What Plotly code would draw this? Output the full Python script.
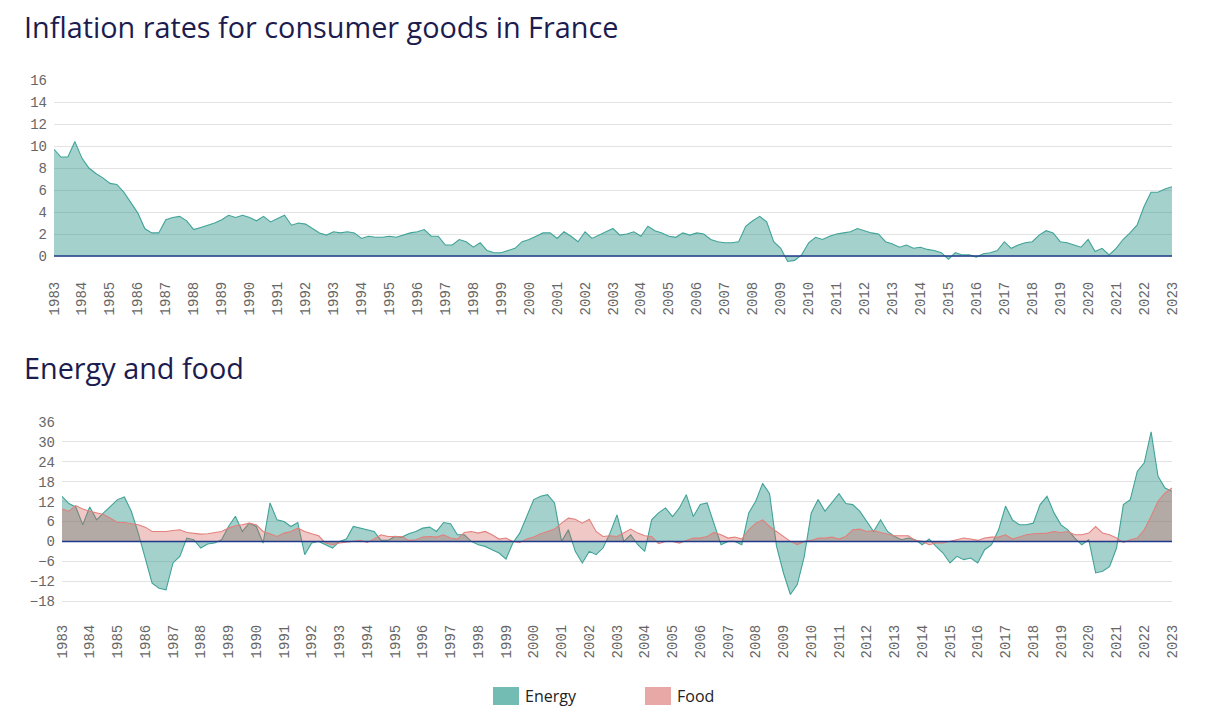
import pandas as pd
import plotly.graph_objects as go

# Quarterly dates Jan 1983 .. Jan 2023
dates = pd.date_range("1983-01-01", "2023-01-01", freq="QS")

overall = [
    9.7, 9.0, 9.0, 10.4,
    8.9, 8.0, 7.5, 7.1,
    6.6, 6.5, 5.8, 4.8,
    3.9, 2.5, 2.1, 2.1,
    3.3, 3.5, 3.6, 3.2,
    2.4, 2.6, 2.8, 3.0,
    3.3, 3.7, 3.5, 3.7,
    3.5, 3.2, 3.6, 3.1,
    3.4, 3.7, 2.8, 3.0,
    2.9, 2.5, 2.1, 1.9,
    2.2, 2.1, 2.2, 2.1,
    1.6, 1.8, 1.7, 1.7,
    1.8, 1.7, 1.9, 2.1,
    2.2, 2.4, 1.8, 1.8,
    1.0, 1.0, 1.5, 1.3,
    0.8, 1.2, 0.5, 0.3,
    0.3, 0.5, 0.7, 1.3,
    1.5, 1.8, 2.1, 2.1,
    1.6, 2.2, 1.8, 1.3,
    2.2, 1.6, 1.9, 2.2,
    2.5, 1.9, 2.0, 2.2,
    1.8, 2.7, 2.3, 2.1,
    1.8, 1.7, 2.1, 1.9,
    2.1, 2.0, 1.5, 1.3,
    1.2, 1.2, 1.3, 2.7,
    3.2, 3.6, 3.1, 1.3,
    0.7, -0.5, -0.4, 0.1,
    1.2, 1.7, 1.5, 1.8,
    2.0, 2.1, 2.2, 2.5,
    2.3, 2.1, 2.0, 1.3,
    1.1, 0.8, 1.0, 0.7,
    0.8, 0.6, 0.5, 0.3,
    -0.3, 0.3, 0.1, 0.1,
    -0.1, 0.2, 0.3, 0.5,
    1.3, 0.7, 1.0, 1.2,
    1.3, 1.9, 2.3, 2.1,
    1.3, 1.2, 1.0, 0.8,
    1.5, 0.4, 0.7, 0.1,
    0.7, 1.5, 2.1, 2.8,
    4.5, 5.8, 5.8, 6.1,
    6.3,
]

energy = [
    13.6, 11.4, 10.4, 5.0,
    10.4, 6.5, 8.6, 10.6,
    12.6, 13.4, 9.1, 2.5,
    -5.5, -12.6, -14.1, -14.6,
    -6.5, -4.5, 1.0, 0.5,
    -2.0, -0.8, -0.5, 0.5,
    4.5, 7.6, 3.0, 5.5,
    4.5, -0.5, 11.6, 6.5,
    6.0, 4.5, 5.7, -4.0,
    -0.5, 0.0, -1.0, -2.0,
    0.0, 0.7, 4.5, 4.0,
    3.5, 3.0, 0.3, 0.3,
    1.5, 1.3, 2.3, 3.0,
    4.0, 4.3, 3.0, 5.7,
    5.3, 2.0, 2.0, 0.0,
    -1.0, -1.5, -2.5, -3.5,
    -5.3, -0.5, 2.5, 7.5,
    12.6, 13.6, 14.1, 11.6,
    0.0, 3.5, -3.0, -6.5,
    -3.0, -4.0, -2.0, 2.5,
    8.0, 0.0, 2.0, -1.0,
    -3.0, 6.5, 8.6, 10.1,
    7.5, 10.1, 14.1, 7.5,
    11.1, 11.6, 5.5, -1.0,
    0.0, 0.0, -1.0, 8.6,
    12.1, 17.5, 14.4, -1.5,
    -9.6, -16.0, -13.0, -4.5,
    8.6, 12.6, 9.1, 11.6,
    14.4, 11.4, 11.1, 9.1,
    6.0, 3.0, 6.5, 3.0,
    1.5, 0.5, 1.0, 0.5,
    -1.0, 0.7, -1.5, -3.5,
    -6.5, -4.5, -5.5, -5.0,
    -6.5, -2.5, -1.0, 3.5,
    10.6, 6.5, 5.0, 5.0,
    5.5, 11.1, 13.6, 8.6,
    5.0, 3.5, 1.0, -1.0,
    0.5, -9.5, -9.0, -7.6,
    -2.0, 11.1, 12.6, 21.1,
    23.7, 33.0, 19.6, 16.1,
    15.1,
]

food = [
    9.8, 9.1, 10.8, 9.8,
    9.1, 8.6, 8.1, 7.0,
    5.7, 5.7, 5.3, 5.0,
    4.3, 3.0, 3.0, 3.0,
    3.3, 3.5, 2.7, 2.5,
    2.2, 2.3, 2.7, 3.0,
    4.0, 4.7, 5.0, 5.5,
    5.0, 3.0, 2.3, 1.5,
    2.5, 3.0, 4.0, 3.0,
    2.3, 1.7, -0.5, -1.0,
    -0.5, -0.3, 0.0, 0.3,
    -0.3, 0.7, 2.0, 1.5,
    1.5, 1.5, 0.3, 0.5,
    1.3, 1.5, 1.3, 2.0,
    1.0, 0.7, 2.7, 3.0,
    2.5, 3.0, 2.0, 0.7,
    1.0, 0.0, -0.3, 0.7,
    1.3, 2.3, 3.0, 3.7,
    5.5, 7.0, 6.7, 5.5,
    6.7, 3.0, 1.5, 1.7,
    1.5, 2.5, 3.7, 2.5,
    1.7, 1.5, -0.7, 0.0,
    0.0, -0.5, 0.3, 1.0,
    1.0, 1.5, 2.7, 2.0,
    1.0, 1.3, 0.7, 3.5,
    5.5, 6.5, 4.5, 3.0,
    1.5, 0.0, -1.0, 0.0,
    0.3, 1.0, 1.0, 1.3,
    0.7, 1.5, 3.5, 3.7,
    3.0, 3.3, 2.7, 2.3,
    1.7, 1.7, 1.7, 0.3,
    0.0, -1.0, -0.5, -0.5,
    0.0, 0.5, 1.0, 0.7,
    0.3, 1.0, 1.3, 1.3,
    2.0, 0.7, 1.3, 2.0,
    2.3, 2.3, 2.5, 3.0,
    2.7, 3.0, 2.0, 2.0,
    2.5, 4.5, 2.5, 2.0,
    1.0, -0.3, 0.5, 1.0,
    3.5, 7.6, 12.1, 14.6,
    16.1,
]

top_ticks = [0, 2, 4, 6, 8, 10, 12, 14, 16]
bottom_ticks = [-18, -12, -6, 0, 6, 12, 18, 24, 30, 36]
titles = ["Inflation rates for consumer goods in France", "Energy and food"]
legend_names = ["Energy", "Food"]

TEAL_LINE = "rgb(64,163,152)"
TEAL_FILL = "rgba(30,140,128,0.40)"
PINK_LINE = "rgb(226,128,124)"
PINK_FILL = "rgba(210,90,84,0.33)"
TEAL_SWATCH = "rgb(114,188,180)"
PINK_SWATCH = "rgb(232,168,165)"
W, H = 1219, 721
OFF = 8  # page body margin


def px(x):
    return (x - OFF) / W


def py(y):
    return 1 - (y - OFF) / H


fig = go.Figure()
fig.add_trace(go.Scatter(x=dates, y=overall, mode="lines", fill="tozeroy",
                         line=dict(color=TEAL_LINE, width=1.1), fillcolor=TEAL_FILL,
                         xaxis="x", yaxis="y", showlegend=False, name="Inflation"))
fig.add_trace(go.Scatter(x=dates, y=energy, mode="lines", fill="tozeroy",
                         line=dict(color=TEAL_LINE, width=1.1), fillcolor=TEAL_FILL,
                         xaxis="x2", yaxis="y2", showlegend=False, name="Energy"))
fig.add_trace(go.Scatter(x=dates, y=food, mode="lines", fill="tozeroy",
                         line=dict(color=PINK_LINE, width=1.1), fillcolor=PINK_FILL,
                         xaxis="x2", yaxis="y2", showlegend=False, name="Food"))

tickfont = dict(family="Liberation Mono", size=14, color="#666666")
xcommon = dict(type="date", dtick="M12", tick0="1983-01-01", tickformat="%Y",
               tickangle=-90, tickfont=tickfont, showgrid=False, zeroline=False,
               showline=False, ticks="", automargin=False,
               range=["1983-01-01", "2023-01-01"])
ycommon = dict(tickfont=tickfont, showgrid=True, gridcolor="#e3e3e3", gridwidth=1,
               zeroline=False, showline=False, ticks="", ticklabelstandoff=6,
               automargin=False)

fig.update_layout(
    template="none",
    width=W, height=H,
    margin=dict(l=0, r=0, t=0, b=0, pad=0, autoexpand=False),
    paper_bgcolor="white", plot_bgcolor="white",
    showlegend=False,
    xaxis=dict(domain=[px(54), px(1172)], anchor="y", **xcommon),
    yaxis=dict(domain=[py(278), py(80)], anchor="x", range=[-2, 16],
               tickvals=top_ticks, **ycommon),
    xaxis2=dict(domain=[px(62), px(1172)], anchor="y2", **xcommon),
    yaxis2=dict(domain=[py(621), py(422)], anchor="x2", range=[-24, 36],
                tickvals=bottom_ticks, **ycommon),
)

# zero lines drawn above the areas
for xr, yr in (("x domain", "y"), ("x2 domain", "y2")):
    fig.add_shape(type="line", xref=xr, yref=yr, x0=0, x1=1, y0=0, y1=0,
                  line=dict(color="#1f3a8a", width=1.5), layer="above")

# titles
for txt, yc in zip(titles, (27, 367)):
    fig.add_annotation(text=txt, xref="paper", yref="paper", x=px(22), y=py(yc),
                       xanchor="left", yanchor="middle", showarrow=False,
                       font=dict(family="Open Sans", size=28.8, color="#1c1c4f"))

# legend (swatches + labels)
for name, col, x0 in zip(legend_names, (TEAL_SWATCH, PINK_SWATCH), (493, 645)):
    fig.add_shape(type="rect", xref="paper", yref="paper",
                  x0=px(x0), x1=px(x0 + 26), y0=py(705), y1=py(687),
                  fillcolor=col, line=dict(width=0))
    fig.add_annotation(text=name, xref="paper", yref="paper", x=px(x0 + 30),
                       y=py(696), xanchor="left", yanchor="middle", showarrow=False,
                       font=dict(family="Open Sans", size=16, color="#222222"))

fig.write_html("out.html")
